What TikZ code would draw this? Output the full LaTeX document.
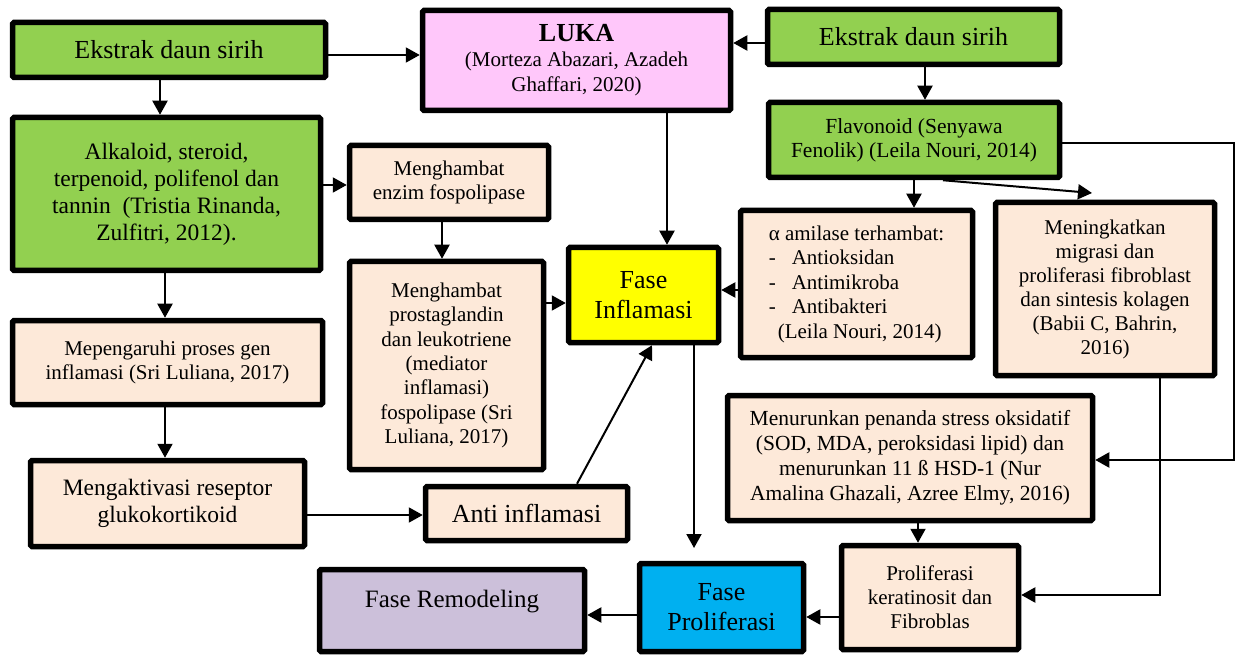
\documentclass[tikz,border=0pt]{standalone}
\usepackage{fontspec}
\setmainfont{Liberation Serif}
\usetikzlibrary{arrows.meta}
\definecolor{cgreen}{RGB}{146,208,80}
\definecolor{cpink}{RGB}{255,199,250}
\definecolor{cpeach}{RGB}{253,233,217}
\definecolor{cyellow}{RGB}{255,255,0}
\definecolor{cblue}{RGB}{0,176,240}
\definecolor{cpurple}{RGB}{204,192,218}
\newcommand{\fsz}[2]{\fontsize{#1pt}{#2pt}\selectfont}
\begin{document}
\begin{tikzpicture}[x=1pt,y=-1pt,
  box/.style={draw=black, line width=5.5pt, rounded corners=1.5pt, inner sep=2pt, align=center},
  arr/.style={line width=2pt, -{Triangle[length=14pt,width=15pt]}}]
\useasboundingbox (0,0) rectangle (1243,655);

% nodes
\node[box, fill=cgreen, minimum width=313pt, minimum height=55pt, font={\fsz{26}{30}}] (ekL) at (169,50) {Ekstrak daun sirih};
\node[box, fill=cpink, minimum width=308pt, minimum height=100pt, font={\fsz{21}{25}}] (luka) at (576.5,60.5) {{\fsz{26}{25}\bfseries LUKA}\\(Morteza Abazari, Azadeh\\Ghaffari, 2020)};
\node[box, fill=cgreen, minimum width=292pt, minimum height=55pt, font={\fsz{26}{30}}] (ekR) at (913.5,37) {Ekstrak daun sirih};
\node[box, fill=cgreen, minimum width=291pt, minimum height=75pt, font={\fsz{21.5}{24}}] (flav) at (914,140) {Flavonoid (Senyawa\\Fenolik) (Leila Nouri, 2014)};
\node[box, fill=cgreen, minimum width=308pt, minimum height=153pt, font={\fsz{23.5}{27}}] (alk) at (166.5,194) {Alkaloid, steroid,\\terpenoid, polifenol dan\\tannin\ \ (Tristia Rinanda,\\Zulfitri, 2012).};
\node[box, fill=cpeach, minimum width=199pt, minimum height=74pt, font={\fsz{21}{24}}] (enz) at (449,182.5) {Menghambat\\enzim fospolipase};
\node[box, fill=cpeach, minimum width=194pt, minimum height=208pt, font={\fsz{21}{24.4}}] (pros) at (446.5,365.5) {Menghambat\\prostaglandin\\dan leukotriene\\(mediator\\inflamasi)\\fospolipase (Sri\\Luliana, 2017)};
\node[box, fill=cyellow, minimum width=150pt, minimum height=95pt, font={\fsz{26}{30}}] (fi) at (643.5,295) {Fase\\Inflamasi};
\node[box, fill=cpeach, minimum width=232pt, minimum height=147pt, font={\fsz{21}{24.5}}, align=left] (alpha) at (856.5,284) {α amilase terhambat:\\-\hspace{16pt}Antioksidan\\-\hspace{16pt}Antimikroba\\-\hspace{16pt}Antibakteri\\\hspace{9pt}(Leila Nouri, 2014)};
\node[box, fill=cpeach, minimum width=219pt, minimum height=173pt, font={\fsz{21}{24}}] (mening) at (1105,289) {Meningkatkan\\migrasi dan\\proliferasi fibroblast\\dan sintesis kolagen\\(Babii C, Bahrin,\\2016)};
\node[box, fill=cpeach, minimum width=310pt, minimum height=84pt, font={\fsz{21}{24}}] (mep) at (167.5,362.5) {Mepengaruhi proses gen\\inflamasi (Sri Luliana, 2017)};
\node[box, fill=cpeach, minimum width=274pt, minimum height=86pt, font={\fsz{23.5}{27}}] (meng) at (167.5,503.5) {Mengaktivasi reseptor\\glukokortikoid};
\node[box, fill=cpeach, minimum width=202pt, minimum height=54pt, font={\fsz{26}{30}}] (anti) at (526.5,513.5) {Anti inflamasi};
\node[box, fill=cpurple, minimum width=265pt, minimum height=82pt, font={\fsz{25}{30}}, text height=18pt, text depth=24pt] (rem) at (452,610.5) {Fase Remodeling};
\node[box, fill=cblue, minimum width=164pt, minimum height=88pt, font={\fsz{26}{30}}] (fp) at (721.5,607.5) {Fase\\Proliferasi};
\node[box, fill=cpeach, minimum width=177pt, minimum height=104pt, font={\fsz{21}{24}}] (ker) at (930,597.5) {Proliferasi\\keratinosit dan\\Fibroblas};
\node[box, fill=cpeach, minimum width=365pt, minimum height=125pt, font={\fsz{21.5}{25}}] (menur) at (910,458) {Menurunkan penanda stress oksidatif\\(SOD, MDA, peroksidasi lipid) dan\\menurunkan 11 ß HSD-1 (Nur\\Amalina Ghazali, Azree Elmy, 2016)};

% connectors
\draw[arr] (ekL.east |- 0,55) -- (luka.west |- 0,55);
\draw[arr] (ekL.south -| 160,0) -- (alk.north -| 160,0);
\draw[arr] (alk.east |- 0,185) -- (enz.west |- 0,185);
\draw[arr] (enz.south -| 442,0) -- (pros.north -| 442,0);
\draw[arr] (pros.east |- 0,303) -- (fi.west |- 0,303);
\draw[arr] (luka.south -| 667,0) -- (fi.north -| 667,0);
\draw[arr] (ekR.west |- 0,43) -- (luka.east |- 0,43);
\draw[arr] (ekR.south -| 925,0) -- (flav.north -| 925,0);
\draw[arr] (flav.south -| 914,0) -- (alpha.north -| 914,0);
\coordinate (mt) at (1092,193);
\draw[arr] (flav.south -| 943,0) -- (mt);
\coordinate (rt) at (1234,460);
\draw[arr] (flav.east |- 0,143) -| (rt) -- (menur.east |- rt);
\draw[arr] (alpha.west |- 0,290) -- (fi.east |- 0,290);
\draw[arr] (mening.south -| 1160,0) |- (ker.east |- 0,595);
\draw[arr] (menur.south -| 918,0) -- (ker.north -| 918,0);
\draw[arr] (ker.west |- 0,617) -- (fp.east |- 0,617);
\draw[arr] (fp.west |- 0,615) -- (rem.east |- 0,615);
\coordinate (fpt) at (694,548);
\draw[arr] (fi.south -| fpt) -- (fpt);
\draw[arr] (alk.south -| 165,0) -- (mep.north -| 165,0);
\draw[arr] (mep.south -| 165,0) -- (meng.north -| 165,0);
\draw[arr] (meng.east |- 0,515) -- (anti.west |- 0,515);
\draw[arr] (anti.north -| 577,0) -- (fi.south -| 652,0);
\end{tikzpicture}
\end{document}
